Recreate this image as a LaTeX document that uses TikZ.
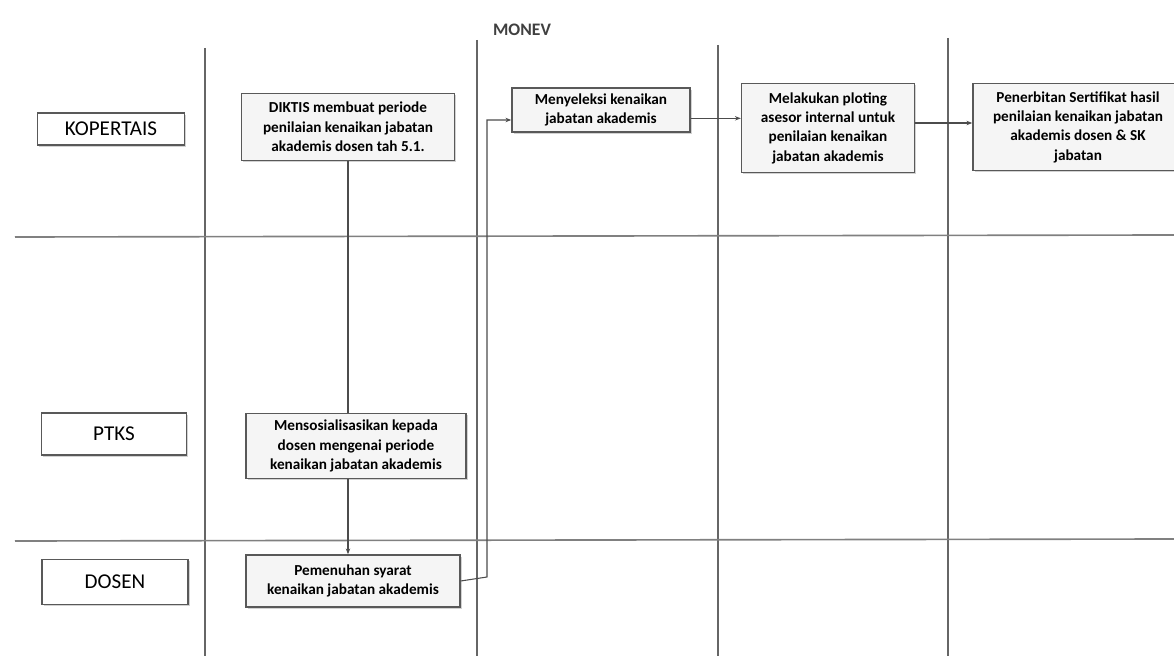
\documentclass[tikz,border=0pt]{standalone}
\usepackage{fontspec}
\setmainfont{Carlito}
\usetikzlibrary{arrows.meta,shadows}
\tikzset{
    lanebox/.style={draw=black!65,line width=1.2pt,fill=white,font=\fontsize{18}{20}\selectfont,
        drop shadow={shadow xshift=1.5pt,shadow yshift=-1.5pt,fill=black!35}},
    stepbox/.style={draw=black!65,line width=1.2pt,fill=black!4,align=center,
        font=\bfseries\fontsize{13}{16.5}\selectfont,inner sep=2pt,
        drop shadow={shadow xshift=1.5pt,shadow yshift=-1.5pt,fill=black!35}},
    flow/.style={draw=black!70,line width=0.9pt},
    lane/.style={draw=black!60,line width=1.4pt}
}
\begin{document}
\begin{tikzpicture}[x=0.03cm,y=-0.03cm]
    \clip (0,0) rectangle (1174,656);
    \useasboundingbox (0,0) rectangle (1174,656);
    % lanes
    \foreach \x/\y in {205/48,477/40,718/45,948/38}
        \draw[lane] (\x,\y) -- (\x,656);
    \draw[lane,draw=black!50] (15,237) -- (1174,235);
    \draw[lane,draw=black!50] (15,541) -- (1174,539);
    \node[font=\bfseries\fontsize{15}{17}\selectfont,text=black!75] (monev) at (522,30) {MONEV};
    % actors
    \node[lanebox,minimum width=4.4cm,minimum height=0.96cm] (kopertais) at (111,129) {KOPERTAIS};
    \node[lanebox,minimum width=4.35cm,minimum height=1.26cm] (ptks) at (114,434) {PTKS};
    \node[lanebox,minimum width=4.38cm,minimum height=1.35cm] (dosen) at (115,582) {DOSEN};
    % steps
    \node[stepbox,minimum width=6.39cm,minimum height=2.01cm] (periode) at (348,127)
        {DIKTIS membuat periode\\penilaian kenaikan jabatan\\akademis dosen tah 5.1.};
    \node[stepbox,minimum width=6.6cm,minimum height=1.95cm] (sosialisasi) at (356,446)
        {Mensosialisasikan kepada\\dosen mengenai periode\\kenaikan jabatan akademis};
    \node[stepbox,minimum width=6.42cm,minimum height=1.56cm] (syarat) at (353,581)
        {Pemenuhan syarat\\kenaikan jabatan akademis};
    \node[stepbox,minimum width=5.34cm,minimum height=1.32cm] (seleksi) at (601,110)
        {Menyeleksi kenaikan\\jabatan akademis};
    \node[stepbox,minimum width=5.19cm,minimum height=2.67cm] (ploting) at (828,128)
        {Melakukan ploting\\asesor internal untuk\\penilaian kenaikan\\jabatan akademis};
    \node[stepbox,minimum width=6.3cm,minimum height=2.61cm] (sertifikat) at (1078,127)
        {Penerbitan Sertifikat hasil\\penilaian kenaikan jabatan\\akademis dosen \& SK\\jabatan};
    % connectors
    \coordinate (turn) at (487,577);
    \draw[flow] (periode.south) -- (periode.south |- sosialisasi.north);
    \draw[flow,-{Stealth[length=5pt]}] (periode.south |- sosialisasi.south) -- (periode.south |- syarat.north);
    \draw[flow,-{Stealth[length=5pt]}] (syarat.east) -- (turn) |- ([yshift=-0.3cm]seleksi.west);
    \draw[flow,-{Stealth[length=5pt]}] ([yshift=-0.25cm]seleksi.east) -- ([yshift=-0.25cm]seleksi.east -| ploting.west);
    \draw[flow,-{Stealth[length=5pt]}] ([yshift=0.15cm]ploting.east) -- ([yshift=0.15cm]ploting.east -| sertifikat.west);
\end{tikzpicture}
\end{document}
